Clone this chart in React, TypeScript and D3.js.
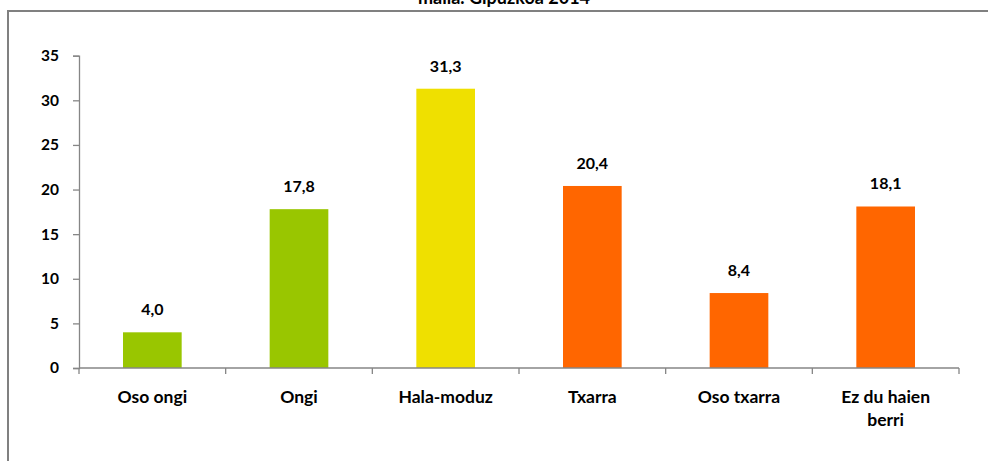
import React, { useEffect, useRef } from 'react'
import * as d3 from 'd3'

// chart data
const categories = ['Oso ongi', 'Ongi', 'Hala-moduz', 'Txarra', 'Oso txarra', 'Ez du haien berri']
const values = [4.0, 17.8, 31.3, 20.4, 8.4, 18.1]
const barColors = ['#99c600', '#99c600', '#efe000', '#ff6600', '#ff6600', '#ff6600']
const yTicks = [0, 5, 10, 15, 20, 25, 30, 35]
const titleText = 'maila. Gipuzkoa 2014'

const WIDTH = 988
const HEIGHT = 461
const MARGIN = { LEFT: 79, RIGHT: 29, TOP: 55.7, BOTTOM: 93 }
const FONT = 'Lato, "Open Sans", sans-serif'

export default function App() {
  const ref = useRef<SVGSVGElement>(null)

  useEffect(() => {
    const svg = d3.select(ref.current)
    svg.selectAll('*').remove()

    // outer frame (runs past the right and bottom edges)
    svg.append('rect')
      .attr('x', 8)
      .attr('y', 11)
      .attr('width', 1100)
      .attr('height', 600)
      .attr('fill', 'none')
      .attr('stroke', '#808080')
      .attr('stroke-width', 2)

    // title, mostly cut off above the page
    svg.append('text')
      .attr('x', 504)
      .attr('y', 4)
      .attr('text-anchor', 'middle')
      .attr('font-family', FONT)
      .attr('font-weight', 'bold')
      .attr('font-size', '18px')
      .attr('fill', '#000')
      .text(titleText)

    const innerW = WIDTH - MARGIN.LEFT - MARGIN.RIGHT
    const innerH = HEIGHT - MARGIN.TOP - MARGIN.BOTTOM

    const g = svg.append('g')
      .attr('transform', `translate(${MARGIN.LEFT}, ${MARGIN.TOP})`)

    const x = d3.scaleBand().domain(categories).range([0, innerW]).paddingInner(0.6).paddingOuter(0.3)
    const xOuter = d3.scaleBand().domain(categories).range([0, innerW])
    const y = d3.scaleLinear().domain([0, 35]).range([innerH, 0])

    // bars
    g.selectAll('.bar')
      .data(values)
      .enter()
      .append('rect')
      .attr('class', 'bar')
      .attr('x', (d, i) => x(categories[i])!)
      .attr('y', d => y(d))
      .attr('width', x.bandwidth())
      .attr('height', d => innerH - y(d))
      .attr('fill', (d, i) => barColors[i])

    // value labels
    g.selectAll('.val')
      .data(values)
      .enter()
      .append('text')
      .attr('class', 'val')
      .attr('x', (d, i) => x(categories[i])! + x.bandwidth() / 2)
      .attr('y', d => y(d) - 17)
      .attr('text-anchor', 'middle')
      .attr('font-family', FONT)
      .attr('font-weight', 'bold')
      .attr('font-size', '16px')
      .attr('fill', '#000')
      .text(d => d.toFixed(1).replace('.', ','))

    // y axis
    const yAxis = g.append('g').call(
      d3.axisLeft(y).tickValues(yTicks).tickSize(6).tickPadding(14).tickFormat(d3.format('d'))
    )
    yAxis.select('.domain').attr('stroke', '#868686').attr('stroke-width', 1.3)
    yAxis.selectAll('.tick line').attr('stroke', '#868686').attr('stroke-width', 1.3)
    yAxis.selectAll('.tick text')
      .attr('font-family', FONT)
      .attr('font-weight', 'bold')
      .attr('font-size', '15.5px')
      .attr('fill', '#000')

    // x axis line and ticks at category boundaries
    const xg = g.append('g').attr('transform', `translate(0, ${innerH})`)
    xg.append('line')
      .attr('x1', 0).attr('x2', innerW)
      .attr('stroke', '#868686').attr('stroke-width', 1.3)
    const bounds = categories.map(c => xOuter(c)!).concat([innerW])
    xg.selectAll('.xt')
      .data(bounds)
      .enter()
      .append('line')
      .attr('x1', d => d).attr('x2', d => d)
      .attr('y1', 0).attr('y2', 6)
      .attr('stroke', '#868686').attr('stroke-width', 1.3)

    // category labels, wrapped like the original
    const lines = (c: string) => (c === 'Ez du haien berri' ? ['Ez du haien', 'berri'] : [c])
    categories.forEach(c => {
      const t = xg.append('text')
        .attr('x', xOuter(c)! + xOuter.bandwidth() / 2)
        .attr('y', 35)
        .attr('text-anchor', 'middle')
        .attr('font-family', FONT)
        .attr('font-weight', 'bold')
        .attr('font-size', '17.5px')
        .attr('fill', '#000')
      lines(c).forEach((l, i) => {
        t.append('tspan')
          .attr('x', xOuter(c)! + xOuter.bandwidth() / 2)
          .attr('dy', i === 0 ? 0 : 23)
          .text(l)
      })
    })
  }, [])

  return (
    <svg
      ref={ref}
      width={WIDTH}
      height={HEIGHT}
      style={{ position: 'absolute', left: 0, top: 0, background: '#fff' }}
    />
  )
}
